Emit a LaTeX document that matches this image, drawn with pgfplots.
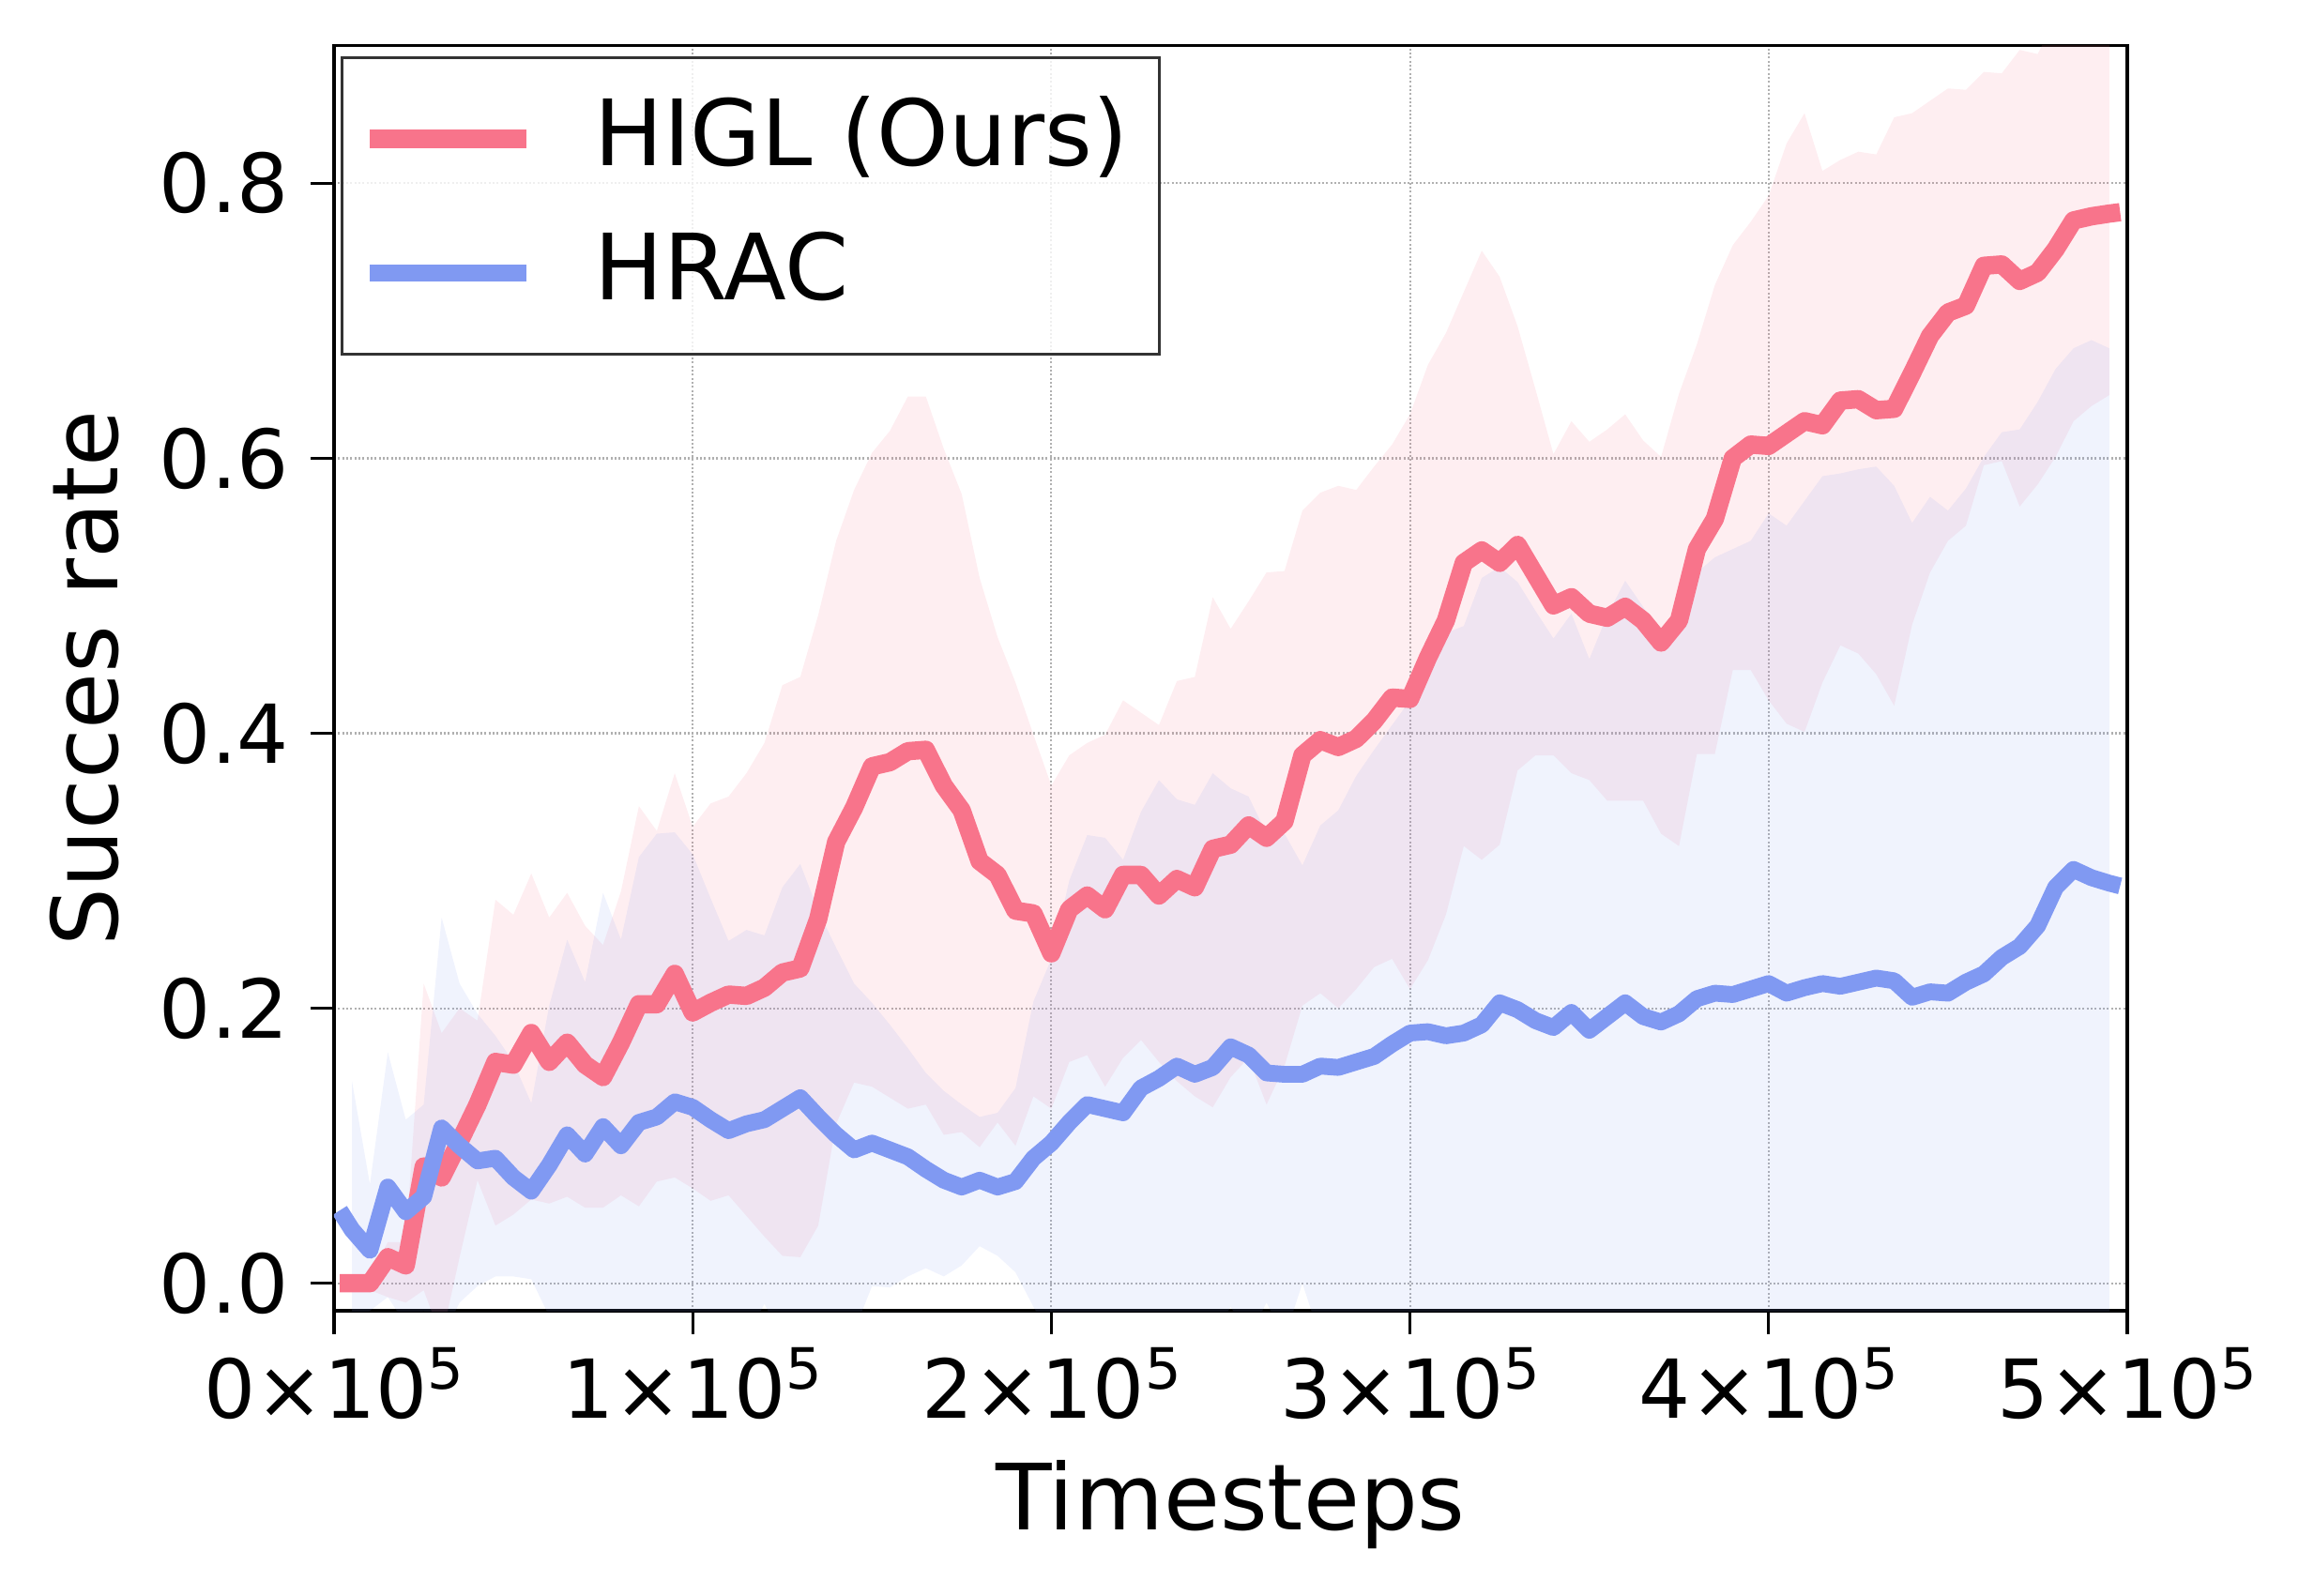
\documentclass[border=0pt]{standalone}
\usepackage{fontspec}
\setmainfont{DejaVu Sans}
\usepackage{pgfplots}
\usepackage{pgfplotstable}
\pgfplotsset{compat=1.18}
\usepgfplotslibrary{fillbetween}
\definecolor{higl}{RGB}{248,116,139}
\definecolor{hrac}{RGB}{128,153,242}
\definecolor{gridc}{RGB}{176,176,176}

\pgfplotstableread{
x y
0.016 0.000
0.05 0.000
0.10 0.000
0.15 0.019
0.20 0.013
0.25 0.085
0.30 0.077
0.35 0.103
0.40 0.130
0.45 0.161
0.50 0.159
0.55 0.182
0.60 0.161
0.65 0.175
0.70 0.159
0.75 0.150
0.80 0.175
0.85 0.203
0.90 0.203
0.95 0.225
1.00 0.197
1.05 0.204
1.10 0.210
1.15 0.209
1.20 0.215
1.25 0.226
1.30 0.229
1.35 0.265
1.40 0.321
1.45 0.346
1.50 0.376
1.55 0.379
1.60 0.387
1.65 0.388
1.70 0.362
1.75 0.344
1.80 0.307
1.85 0.297
1.90 0.271
1.95 0.269
2.00 0.240
2.05 0.272
2.10 0.282
2.15 0.272
2.20 0.297
2.25 0.297
2.30 0.282
2.35 0.294
2.40 0.288
2.45 0.316
2.50 0.319
2.55 0.333
2.60 0.324
2.65 0.336
2.70 0.384
2.75 0.395
2.80 0.390
2.85 0.396
2.90 0.409
2.95 0.426
3.00 0.425
3.05 0.455
3.10 0.482
3.15 0.524
3.20 0.533
3.25 0.524
3.30 0.537
3.35 0.515
3.40 0.493
3.45 0.499
3.50 0.487
3.55 0.484
3.60 0.492
3.65 0.482
3.70 0.466
3.75 0.482
3.80 0.534
3.85 0.556
3.90 0.600
3.95 0.610
4.00 0.609
4.05 0.618
4.10 0.627
4.15 0.624
4.20 0.642
4.25 0.643
4.30 0.635
4.35 0.636
4.40 0.662
4.45 0.689
4.50 0.706
4.55 0.711
4.60 0.740
4.65 0.741
4.70 0.729
4.75 0.735
4.80 0.752
4.85 0.773
4.90 0.776
4.95 0.778
4.98 0.779
}\redline

\pgfplotstableread{
x y
0.016 0.053
0.05 0.039
0.10 0.024
0.15 0.070
0.20 0.052
0.25 0.063
0.30 0.113
0.35 0.100
0.40 0.089
0.45 0.091
0.50 0.077
0.55 0.067
0.60 0.086
0.65 0.108
0.70 0.094
0.75 0.114
0.80 0.100
0.85 0.117
0.90 0.121
0.95 0.132
1.00 0.128
1.05 0.119
1.10 0.111
1.15 0.116
1.20 0.119
1.25 0.127
1.30 0.135
1.35 0.121
1.40 0.108
1.45 0.097
1.50 0.102
1.55 0.097
1.60 0.092
1.65 0.083
1.70 0.075
1.75 0.070
1.80 0.075
1.85 0.070
1.90 0.074
1.95 0.091
2.00 0.102
2.05 0.117
2.10 0.130
2.15 0.127
2.20 0.124
2.25 0.142
2.30 0.149
2.35 0.158
2.40 0.152
2.45 0.157
2.50 0.172
2.55 0.166
2.60 0.153
2.65 0.152
2.70 0.152
2.75 0.158
2.80 0.157
2.85 0.161
2.90 0.165
2.95 0.174
3.00 0.182
3.05 0.183
3.10 0.180
3.15 0.182
3.20 0.188
3.25 0.204
3.30 0.199
3.35 0.191
3.40 0.186
3.45 0.197
3.50 0.184
3.55 0.194
3.60 0.204
3.65 0.194
3.70 0.190
3.75 0.196
3.80 0.207
3.85 0.211
3.90 0.210
3.95 0.214
4.00 0.218
4.05 0.211
4.10 0.215
4.15 0.218
4.20 0.216
4.25 0.219
4.30 0.222
4.35 0.220
4.40 0.208
4.45 0.212
4.50 0.211
4.55 0.219
4.60 0.225
4.65 0.237
4.70 0.245
4.75 0.260
4.80 0.288
4.85 0.301
4.90 0.295
4.95 0.291
4.98 0.289
}\blueline

\pgfplotstableread{
x lo hi
0.05 -0.005 0.005
0.10 -0.005 0.005
0.15 -0.010 0.030
0.20 -0.014 0.030
0.25 -0.005 0.218
0.30 -0.040 0.182
0.35 0.019 0.200
0.40 0.075 0.191
0.45 0.042 0.279
0.50 0.050 0.268
0.55 0.061 0.298
0.60 0.058 0.266
0.65 0.063 0.284
0.70 0.055 0.260
0.75 0.055 0.246
0.80 0.064 0.285
0.85 0.056 0.347
0.90 0.074 0.329
0.95 0.077 0.371
1.00 0.069 0.332
1.05 0.060 0.349
1.10 0.064 0.354
1.15 0.049 0.371
1.20 0.034 0.393
1.25 0.020 0.435
1.30 0.019 0.441
1.35 0.042 0.486
1.40 0.116 0.540
1.45 0.146 0.577
1.50 0.143 0.604
1.55 0.135 0.620
1.60 0.127 0.645
1.65 0.130 0.645
1.70 0.108 0.607
1.75 0.110 0.574
1.80 0.099 0.513
1.85 0.117 0.470
1.90 0.100 0.437
1.95 0.136 0.399
2.00 0.127 0.362
2.05 0.161 0.384
2.10 0.166 0.393
2.15 0.143 0.399
2.20 0.164 0.424
2.25 0.177 0.415
2.30 0.161 0.406
2.35 0.147 0.438
2.40 0.136 0.441
2.45 0.128 0.499
2.50 0.150 0.476
2.55 0.164 0.496
2.60 0.130 0.517
2.65 0.158 0.518
2.70 0.202 0.562
2.75 0.211 0.575
2.80 0.200 0.580
2.85 0.214 0.577
2.90 0.230 0.594
2.95 0.236 0.610
3.00 0.214 0.632
3.05 0.235 0.668
3.10 0.268 0.691
3.15 0.318 0.721
3.20 0.308 0.751
3.25 0.319 0.732
3.30 0.373 0.696
3.35 0.384 0.650
3.40 0.384 0.603
3.45 0.371 0.627
3.50 0.366 0.612
3.55 0.351 0.621
3.60 0.351 0.632
3.65 0.351 0.613
3.70 0.327 0.601
3.75 0.318 0.647
3.80 0.385 0.683
3.85 0.385 0.726
3.90 0.446 0.755
3.95 0.446 0.772
4.00 0.424 0.791
4.05 0.407 0.829
4.10 0.401 0.851
4.15 0.437 0.809
4.20 0.464 0.817
4.25 0.458 0.823
4.30 0.443 0.821
4.35 0.420 0.848
4.40 0.479 0.851
4.45 0.517 0.860
4.50 0.540 0.869
4.55 0.551 0.868
4.60 0.595 0.881
4.65 0.598 0.880
4.70 0.565 0.897
4.75 0.581 0.894
4.80 0.601 0.920
4.85 0.627 0.930
4.90 0.638 0.950
4.95 0.646 0.960
}\redband

\pgfplotstableread{
x lo hi
0.05 -0.030 0.147
0.10 -0.020 0.072
0.15 -0.010 0.168
0.20 -0.030 0.119
0.25 -0.020 0.130
0.30 -0.040 0.266
0.35 -0.014 0.218
0.40 -0.002 0.196
0.45 0.005 0.180
0.50 0.005 0.161
0.55 0.003 0.131
0.60 -0.024 0.202
0.65 -0.040 0.250
0.70 -0.040 0.219
0.75 -0.040 0.284
0.80 -0.040 0.250
0.85 -0.040 0.310
0.90 -0.040 0.327
0.95 -0.040 0.328
1.00 -0.040 0.312
1.05 -0.040 0.280
1.10 -0.040 0.249
1.15 -0.040 0.257
1.20 -0.015 0.253
1.25 -0.040 0.288
1.30 -0.040 0.305
1.35 -0.040 0.271
1.40 -0.030 0.244
1.45 -0.035 0.218
1.50 -0.002 0.204
1.55 -0.003 0.188
1.60 0.005 0.171
1.65 0.011 0.153
1.70 0.005 0.140
1.75 0.013 0.130
1.80 0.027 0.121
1.85 0.020 0.124
1.90 0.008 0.142
1.95 -0.017 0.205
2.00 -0.040 0.236
2.05 -0.040 0.293
2.10 -0.040 0.326
2.15 -0.040 0.324
2.20 -0.040 0.308
2.25 -0.040 0.343
2.30 -0.040 0.366
2.35 -0.040 0.352
2.40 -0.040 0.348
2.45 -0.040 0.371
2.50 -0.017 0.360
2.55 -0.040 0.354
2.60 -0.014 0.327
2.65 -0.040 0.327
2.70 0.000 0.304
2.75 -0.040 0.333
2.80 -0.040 0.344
2.85 -0.040 0.369
2.90 -0.040 0.388
2.95 -0.040 0.406
3.00 -0.040 0.424
3.05 -0.040 0.450
3.10 -0.040 0.473
3.15 -0.040 0.478
3.20 -0.040 0.513
3.25 -0.040 0.521
3.30 -0.040 0.510
3.35 -0.040 0.489
3.40 -0.040 0.469
3.45 -0.040 0.487
3.50 -0.040 0.454
3.55 -0.040 0.486
3.60 -0.040 0.511
3.65 -0.040 0.492
3.70 -0.040 0.473
3.75 -0.040 0.495
3.80 -0.040 0.517
3.85 -0.040 0.528
3.90 -0.040 0.534
3.95 -0.040 0.540
4.00 -0.040 0.560
4.05 -0.040 0.551
4.10 -0.040 0.569
4.15 -0.040 0.587
4.20 -0.040 0.589
4.25 -0.040 0.592
4.30 -0.040 0.594
4.35 -0.040 0.580
4.40 -0.040 0.553
4.45 -0.040 0.572
4.50 -0.040 0.562
4.55 -0.040 0.578
4.60 -0.040 0.601
4.65 -0.040 0.619
4.70 -0.040 0.621
4.75 -0.040 0.641
4.80 -0.040 0.665
4.85 -0.040 0.680
4.90 -0.040 0.686
4.95 -0.040 0.680
}\blueband

\newcommand{\supfive}{\raisebox{5.7pt}{\fontsize{11.2}{13}\selectfont 5}}

\begin{document}
\begin{tikzpicture}
\begin{axis}[
  at={(0pt,0pt)}, anchor=south west,
  scale only axis, width=352.8pt, height=248.9pt,
  xmin=0, xmax=5, ymin=-0.02, ymax=0.9,
  xtick={0,1,2,3,4,5},
  xticklabels={0×10\supfive,1×10\supfive,2×10\supfive,3×10\supfive,4×10\supfive,5×10\supfive},
  ytick={0,0.2,0.4,0.6,0.8},
  yticklabels={0.0,0.2,0.4,0.6,0.8},
  scaled ticks=false,
  tick align=outside, tick pos=left,
  major tick length=4.6pt,
  every tick/.style={black, line width=0.6pt},
  axis line style={line width=0.6pt},
  grid=major,
  grid style={gridc, line width=0.4pt, dash pattern=on 0.35pt off 0.45pt},
  ticklabel style={font=\fontsize{16}{19}\selectfont, inner sep=0pt},
  xticklabel style={anchor=north, yshift=-2.4pt},
  yticklabel style={anchor=east, xshift=-4.1pt},
  xlabel={Timesteps}, ylabel={Succes rate},
  label style={font=\fontsize{18}{21}\selectfont, inner sep=0pt},
  xlabel style={at={(axis description cs:0.5,-0.1728)}, anchor=base},
  ylabel style={at={(axis description cs:-0.1593,0.5)}, anchor=north},
  legend cell align=left,
  legend style={
    at={(0.0037,0.992)}, anchor=north west,
    draw=black!80, line width=0.6pt, fill=white, fill opacity=0.8,
    draw opacity=1, text opacity=1,
    font=\fontsize{18}{21.6}\selectfont,
    inner xsep=5.4pt, inner ysep=8.25pt,
    row sep=10.9pt,
    nodes={inner sep=0pt, text height=13.1pt, text depth=2.4pt},
    /tikz/every odd column/.append style={column sep=13.5pt},
  },
  legend image code/.code={%
    \path[use as bounding box, draw=none, fill=none] (0pt,-6.55pt) rectangle (30.8pt,6.55pt);
    \draw[#1, line cap=butt] (0pt,0pt) -- (30.8pt,0pt);},
]
\addplot[draw=none, name path=rh, forget plot] table[x=x, y=hi] {\redband};
\addplot[draw=none, name path=rl, forget plot] table[x=x, y=lo] {\redband};
\addplot[fill=higl, fill opacity=0.12, draw=none, forget plot] fill between[of=rh and rl];
\addplot[draw=none, name path=bh, forget plot] table[x=x, y=hi] {\blueband};
\addplot[draw=none, name path=bl, forget plot] table[x=x, y=lo] {\blueband};
\addplot[fill=hrac, fill opacity=0.12, draw=none, forget plot] fill between[of=bh and bl];

\addplot[higl, line width=3.6pt, line join=round, line cap=butt] table[x=x, y=y] {\redline};
\addlegendentry{\makebox[105.6pt][l]{HIGL (Ours)}}
\addplot[hrac, line width=3.3pt, line join=round, line cap=butt] table[x=x, y=y] {\blueline};
\addlegendentry{\makebox[105.6pt][l]{HRAC}}
\end{axis}
\pgfresetboundingbox
\path[use as bounding box] (-65.72pt,-55.94pt) rectangle (386.58pt,257.91pt);
\end{tikzpicture}
\end{document}
